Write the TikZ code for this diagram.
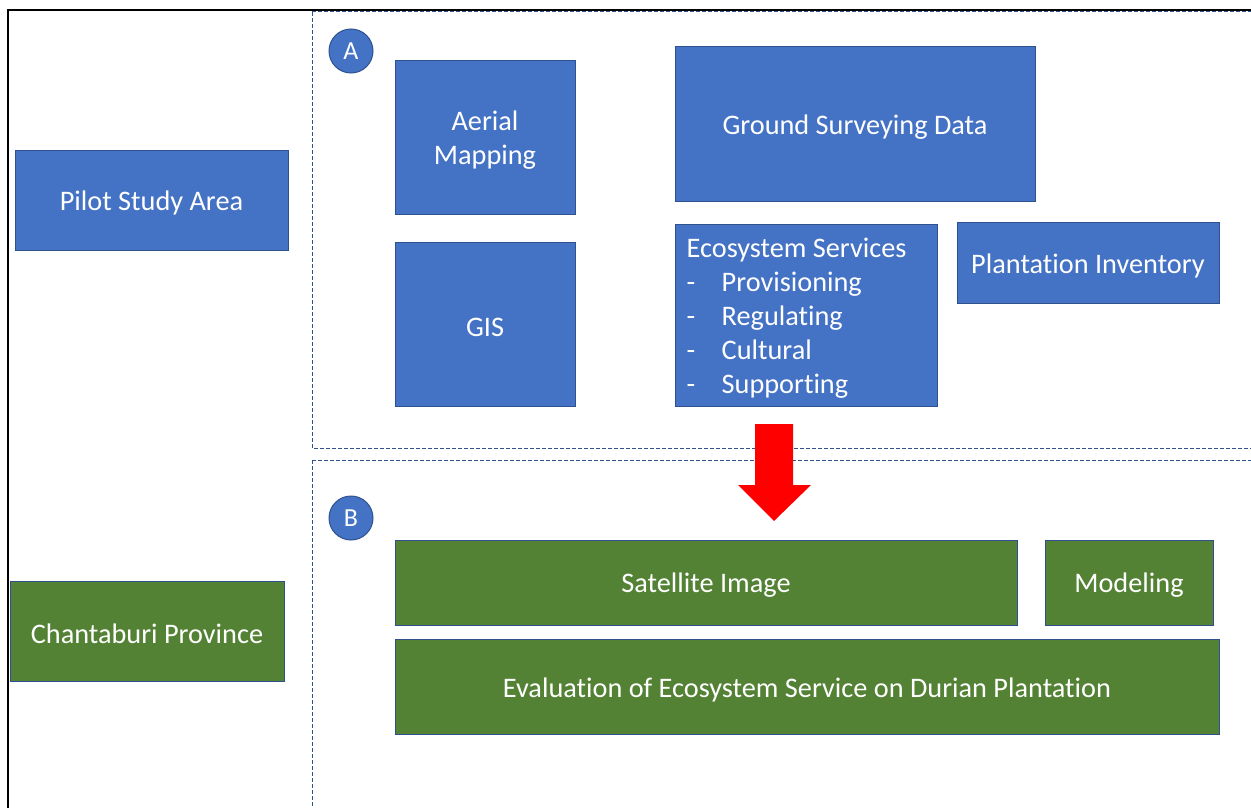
\documentclass[tikz,border=0pt]{standalone}
\usepackage{fontspec}
\setmainfont{Carlito}[Ligatures=NoCommon]
\definecolor{boxblue}{HTML}{4472C4}
\definecolor{boxgreen}{HTML}{548235}
\definecolor{edgeblue}{HTML}{2F528F}
\tikzset{
  panel/.style={draw=edgeblue, line width=1pt, inner sep=0pt},
  bluebox/.style={panel, fill=boxblue},
  greenbox/.style={panel, fill=boxgreen},
  caption/.style={text=white, font=\fontsize{28.3}{34}\selectfont,
    align=center, inner sep=0pt},
  badge/.style={circle, draw=edgeblue, line width=1pt, fill=boxblue, text=white,
    minimum size=44pt, inner sep=0pt, font=\fontsize{26}{30}\selectfont},
  region/.style={draw=edgeblue, line width=1pt, dash pattern=on 4pt off 2pt},
}
% filled box #2 (style #1) centred at (#3,#4), #5 x #6, with caption #7
\newcommand{\boxnode}[7]{%
  \node[#1, minimum width=#5pt, minimum height=#6pt] (#2) at (#3,#4) {};
  \node[caption] (#2-text) at ([yshift=-3pt]#2.center) {#7};
}
\newcommand{\dashitem}[1]{\makebox[35pt][l]{-}#1}
\begin{document}
\begin{tikzpicture}[x=1pt, y=-1pt]
\useasboundingbox (0,0) rectangle (1251,808);
\clip (0,0) rectangle (1251,808);
\fill[white] (0,0) rectangle (1251,808);

% outer frame
\draw[black, line width=1.8pt] (8,10) rectangle (1270,830);

% stage regions
\draw[region] (312,12) rectangle (1270,448);
\draw[region] (312,460) rectangle (1270,830);

% left column
\boxnode{bluebox}{pilot}{151.5}{200}{273}{100}{Pilot Study Area}
\boxnode{greenbox}{prov}{147}{631}{274}{100}{Chantaburi Province}

% stage A
\node[badge] (ba) at (351,51) {A};
\boxnode{bluebox}{aerial}{485}{137.5}{180}{153}{Aerial\\Mapping}
\boxnode{bluebox}{gis}{485}{324}{180}{164}{GIS}
\boxnode{bluebox}{ground}{855}{124}{360}{154}{Ground Surveying Data}
\node[bluebox, minimum width=262pt, minimum height=182pt] (eco) at (806,315) {};
\node[caption, align=left, anchor=west] (eco-text) at ([xshift=12pt, yshift=-3pt]eco.west)
  {Ecosystem Services\\
   \dashitem{Provisioning}\\
   \dashitem{Regulating}\\
   \dashitem{Cultural}\\
   \dashitem{Supporting}};
\boxnode{bluebox}{inv}{1088}{262.5}{262}{81}{Plantation Inventory}

% transition arrow
\fill[red] (755,424) -- (793,424) -- (793,485) -- (811,485) -- (774,521)
  -- (738,485) -- (755,485) -- cycle;

% stage B
\node[badge] (bb) at (351,518) {B};
\boxnode{greenbox}{sat}{706}{582.5}{622}{85}{Satellite Image}
\boxnode{greenbox}{model}{1129}{582.5}{168}{85}{Modeling}
\boxnode{greenbox}{eval}{807}{686.5}{824}{95}{Evaluation of Ecosystem Service on Durian Plantation}
\end{tikzpicture}
\end{document}
